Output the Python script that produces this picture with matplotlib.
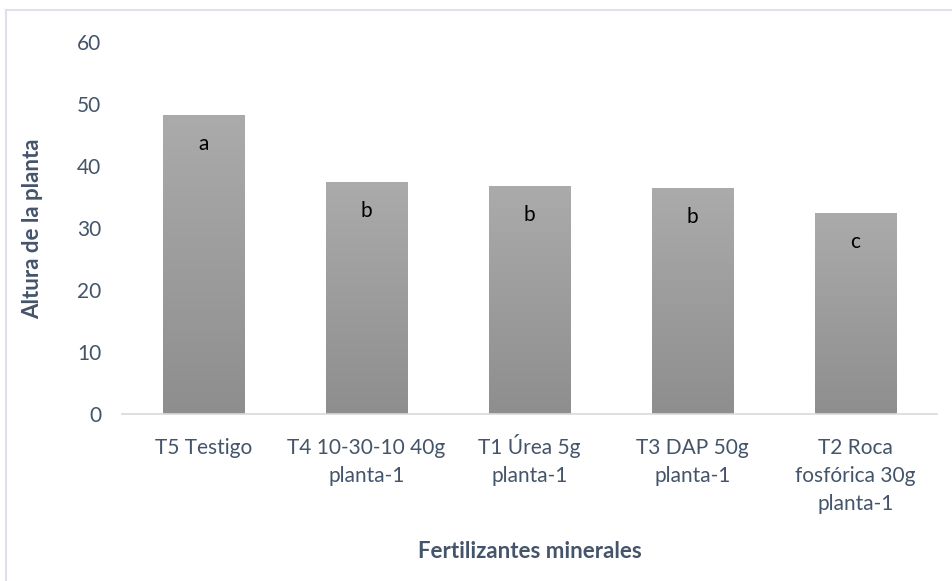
import numpy as np
import matplotlib.pyplot as plt
from matplotlib.colors import LinearSegmentedColormap
from matplotlib.lines import Line2D

plt.rcParams['font.family'] = ['Lato', 'DejaVu Sans']

tratamientos = ['T5 Testigo', 'T4 10-30-10 40g\nplanta-1', 'T1 Úrea 5g\nplanta-1',
                'T3 DAP 50g\nplanta-1', 'T2 Roca\nfosfórica 30g\nplanta-1']
altura = [48.3, 37.5, 36.8, 36.5, 32.5]
letras = ['a', 'b', 'b', 'b', 'c']

txt_color = '#44546a'
gris = LinearSegmentedColormap.from_list('gris', ['#8e8e8e', '#ababab'])

fig = plt.figure(figsize=(9.52, 5.81), dpi=100)
ax = fig.add_axes([0.128, 0.2874, 0.856, 0.6403])

x = np.arange(len(tratamientos))
bars = ax.bar(x, altura, width=0.5, color='none', edgecolor='none')

# vertical gray gradient inside each bar
grad = np.linspace(0, 1, 256).reshape(-1, 1)
for b in bars:
    x0, w, h = b.get_x(), b.get_width(), b.get_height()
    im = ax.imshow(grad, cmap=gris, extent=[x0, x0 + w, 0, h],
                   origin='lower', aspect='auto', zorder=2)
    im.set_clip_path(b)

for xi, h, l in zip(x, altura, letras):
    ax.annotate(l, (xi, h), xytext=(0, -21), textcoords='offset points',
                ha='center', va='center', fontsize=15, color='black', zorder=3)

ax.set_xlim(-0.5, len(tratamientos) - 0.5)
ax.set_ylim(0, 60)
ax.set_yticks(range(0, 61, 10))
ax.set_xticks(x)
ax.set_xticklabels([])
ax.tick_params(length=0, labelsize=15, colors=txt_color)
ax.tick_params(axis='y', pad=15)

# category names written line by line on a common baseline
for xi, name in zip(x, tratamientos):
    for i, line in enumerate(name.split('\n')):
        ax.annotate(line, (xi, 0), xycoords=('data', 'axes fraction'),
                    xytext=(0, -29 - i * 20.2), textcoords='offset points',
                    ha='center', va='baseline', fontsize=15, color=txt_color,
                    annotation_clip=False)

for s in ['top', 'right', 'left']:
    ax.spines[s].set_visible(False)
ax.spines['bottom'].set_color('#d9d9d9')
ax.spines['bottom'].set_linewidth(1.2)

fig.text(0.557, 0.051, 'Fertilizantes minerales', ha='center', va='center',
         fontsize=16, fontweight='bold', color=txt_color)
fig.text(0.034, 0.607, 'Altura de la planta', ha='center', va='center', rotation=90,
         fontsize=16, fontweight='bold', color=txt_color)

# chart area outline (left and top edges)
fig.add_artist(Line2D([0.0063, 0.0063], [0, 0.983], color='#dde1ec', lw=1.5))
fig.add_artist(Line2D([0.0063, 1], [0.983, 0.983], color='#dde1ec', lw=1.5))

fig.savefig('out.png', dpi=100)
